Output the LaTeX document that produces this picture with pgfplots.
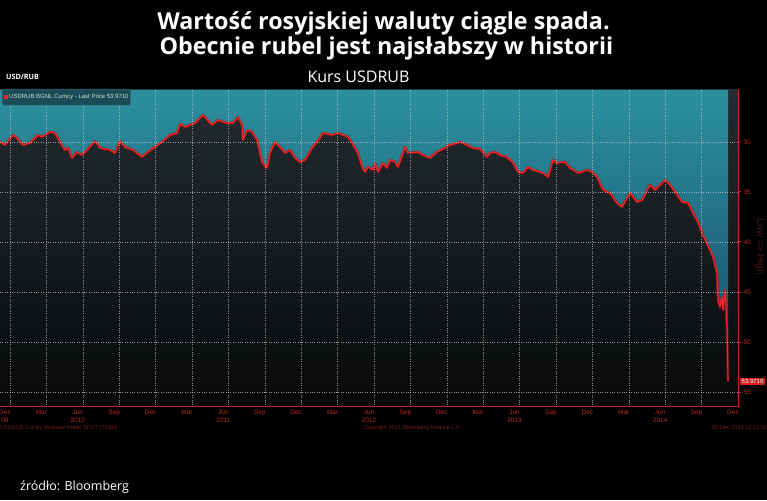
\documentclass[border=0pt]{standalone}
\usepackage{fontspec}
\setmainfont{Open Sans}
\newfontfamily\bbg{Liberation Sans}
\usepackage{pgfplots}
\pgfplotsset{compat=1.18}
\usepackage{pgfplotstable}

\definecolor{tealtop}{HTML}{2B909E}
\definecolor{tealbot}{HTML}{17496A}
\definecolor{darktop}{HTML}{232C31}
\definecolor{darkbot}{HTML}{08090A}
\definecolor{linered}{HTML}{FF2424}
\definecolor{halored}{HTML}{A01212}
\definecolor{axisred}{HTML}{B82A2A}
\definecolor{dimred}{HTML}{7A1E1E}
\definecolor{lowhigh}{HTML}{4E1818}
\definecolor{legfill}{HTML}{1A4C57}
\definecolor{legdraw}{HTML}{3A6E78}
\definecolor{legtext}{HTML}{D4DCDC}
\definecolor{boxred}{HTML}{D42020}

% months since Dec 2009, USDRUB; first and last rows close the teal area
\pgfplotstableread{
m v
-0.82 24.8
-0.82 30.0
-0.41 30.3
0.25 29.3
0.58 29.6
1.07 30.3
1.65 30.1
2.31 29.3
2.64 29.5
3.30 29.0
3.71 29.1
4.12 30.0
4.53 30.8
4.78 30.6
5.11 31.6
5.52 31.0
5.93 31.3
6.35 30.8
7.01 29.9
7.42 30.6
8.24 30.8
8.65 31.1
9.07 29.9
9.48 30.5
10.14 30.8
10.88 31.5
11.37 31.0
11.95 30.5
12.53 30.0
13.19 29.3
13.76 29.1
14.01 28.2
14.42 28.5
14.84 28.3
15.25 28.1
15.91 27.3
16.65 28.3
17.14 27.8
17.88 28.1
18.38 28.1
18.79 27.5
19.12 28.3
19.20 29.8
19.53 28.8
19.95 29.0
20.36 29.8
20.77 32.0
21.18 32.6
21.43 31.1
21.84 30.0
22.25 30.5
22.67 31.1
23.08 30.8
23.49 31.6
23.90 32.0
24.31 31.8
24.89 30.6
25.30 30.0
25.80 29.1
26.54 29.3
27.03 29.1
27.86 29.5
28.19 30.1
28.68 31.1
29.01 32.5
29.26 33.0
29.51 32.5
29.92 32.8
30.08 32.1
30.33 33.0
30.74 32.1
31.07 32.6
31.32 31.8
31.73 32.0
31.98 32.5
32.56 30.5
32.80 31.1
33.63 31.0
34.04 31.3
34.62 31.6
35.19 31.0
35.85 30.6
36.26 30.3
37.09 30.0
37.67 30.3
38.16 30.6
38.74 30.7
39.31 31.5
39.56 31.1
39.97 31.0
40.39 31.3
40.96 31.5
41.46 32.1
41.87 33.0
42.28 33.1
42.69 32.5
43.11 32.8
43.93 33.1
44.34 33.5
44.75 31.8
45.08 32.1
45.74 32.0
46.16 32.6
46.82 33.1
47.56 32.8
47.97 33.0
48.38 33.5
48.88 34.8
49.45 35.1
50.03 36.1
50.44 36.5
51.10 35.1
51.68 36.0
52.09 35.8
52.75 34.3
53.16 34.8
53.41 34.5
53.99 33.8
54.40 34.3
54.81 35.0
55.39 36.0
55.88 36.1
56.29 37.1
56.70 38.0
57.11 39.3
57.69 40.8
57.94 41.5
58.27 43.1
58.35 45.8
58.52 46.5
58.68 45.5
58.76 46.8
58.93 44.8
59.10 48.8
59.18 53.97
59.18 24.8
}\usdrub

\begin{document}
\begin{tikzpicture}[x=1pt,y=1pt]
\fill[black] (0,0) rectangle (767,500);
\useasboundingbox (0,0) rectangle (767,500);

\begin{scope}[shift={(0pt,94pt)}]
\begin{axis}[
  anchor=south west,
  scale only axis, width=738pt, height=316pt,
  xmin=-0.824, xmax=60, ymin=24.8, ymax=56.4,
  y dir=reverse,
  axis line style={draw=none},
  axis background/.style={top color=darktop, bottom color=darkbot},
  axis on top,
  xtick={0,3,...,60},
  xticklabels={Dec\\09,Mar,Jun\\2010,Sep,Dec,Mar,Jun\\2011,Sep,Dec,Mar,Jun\\2012,Sep,Dec,Mar,Jun\\2013,Sep,Dec,Mar,Jun\\2014,Sep,Dec},
  ytick={30,35,...,55},
  ytick pos=right, yticklabel pos=right,
  tick align=outside,
  major tick length=3pt,
  x tick style={draw=none},
  y tick style={draw=axisred, line width=1pt},
  grid=major,
  grid style={dotted, draw=white!60!gray, line width=0.5pt, opacity=0.7},
  /pgf/number format/assume math mode=true,
  xticklabel style={align=center, font=\bbg\fontsize{6.5}{8}\selectfont, text=axisred, xshift=-5pt, inner sep=1pt},
  yticklabel style={font=\bbg\fontsize{6.5}{8}\selectfont, text=axisred, xshift=-1pt},
]
\addplot[draw=none, top color=tealtop, bottom color=tealbot] table[x=m,y=v] {\usdrub};
\addplot[halored, line width=2.8pt, opacity=0.6, line join=round, restrict y to domain=25:60] table[x=m,y=v] {\usdrub};
\addplot[linered, line width=1.1pt, line join=round, restrict y to domain=25:60] table[x=m,y=v] {\usdrub};
\end{axis}
\end{scope}

% Bloomberg frame lines
\draw[axisred, line width=0.8pt] (0,94) -- (738,94) -- (738,410);

% legend box
\node[draw=legdraw, fill=legfill, rounded corners=1pt, anchor=north west,
      inner sep=2pt, minimum height=16pt, font=\bbg\fontsize{6}{7}\selectfont, text=legtext]
      at (2,411) {\textcolor{linered}{\rule{4pt}{4pt}}\,USDRUB BGNL Curncy - Last Price 53.9710};

% last price box
\node[fill=boxred, text=white, anchor=west, inner sep=1.5pt, font=\bbg\fontsize{6}{7}\selectfont]
      at (740,118.3) {53.9710};

% right axis description
\node[text=lowhigh, rotate=-90, font=\bbg\fontsize{10}{12}\selectfont] at (760,253) {Low => High};

% footer of the terminal
\begin{scope}[every node/.style={inner sep=0pt, text=dimred, font=\bbg\fontsize{5.5}{6}\selectfont}]
\node[anchor=base west] at (0,70) {USDRUB Curncy (Russian Ruble SPOT (TOM))};
\node[anchor=base] at (412,70) {Copyright 2014 Bloomberg Finance L.P.};
\node[anchor=base east] at (767,70) {02-Dec-2014 12:12:10};
\end{scope}

% titles
\begin{scope}[every node/.style={inner sep=0pt, text=white}]
\node[anchor=base, font=\bfseries\fontsize{23.3}{27}\selectfont] at (383.5,470) {Wartość rosyjskiej waluty ciągle spada.};
\node[anchor=base, font=\bfseries\fontsize{23.3}{27}\selectfont] at (386.5,445) {Obecnie rubel jest najsłabszy w historii};
\node[anchor=base, font=\fontsize{16}{18}\selectfont] at (358.5,417) {Kurs USDRUB};
\node[anchor=base west, font=\bfseries\fontsize{7.2}{9}\selectfont] at (6,420) {USD/RUB};
\node[anchor=base west, font=\fontsize{12.5}{15}\selectfont] at (20,10) {źródło: Bloomberg};
\end{scope}
\end{tikzpicture}
\end{document}
